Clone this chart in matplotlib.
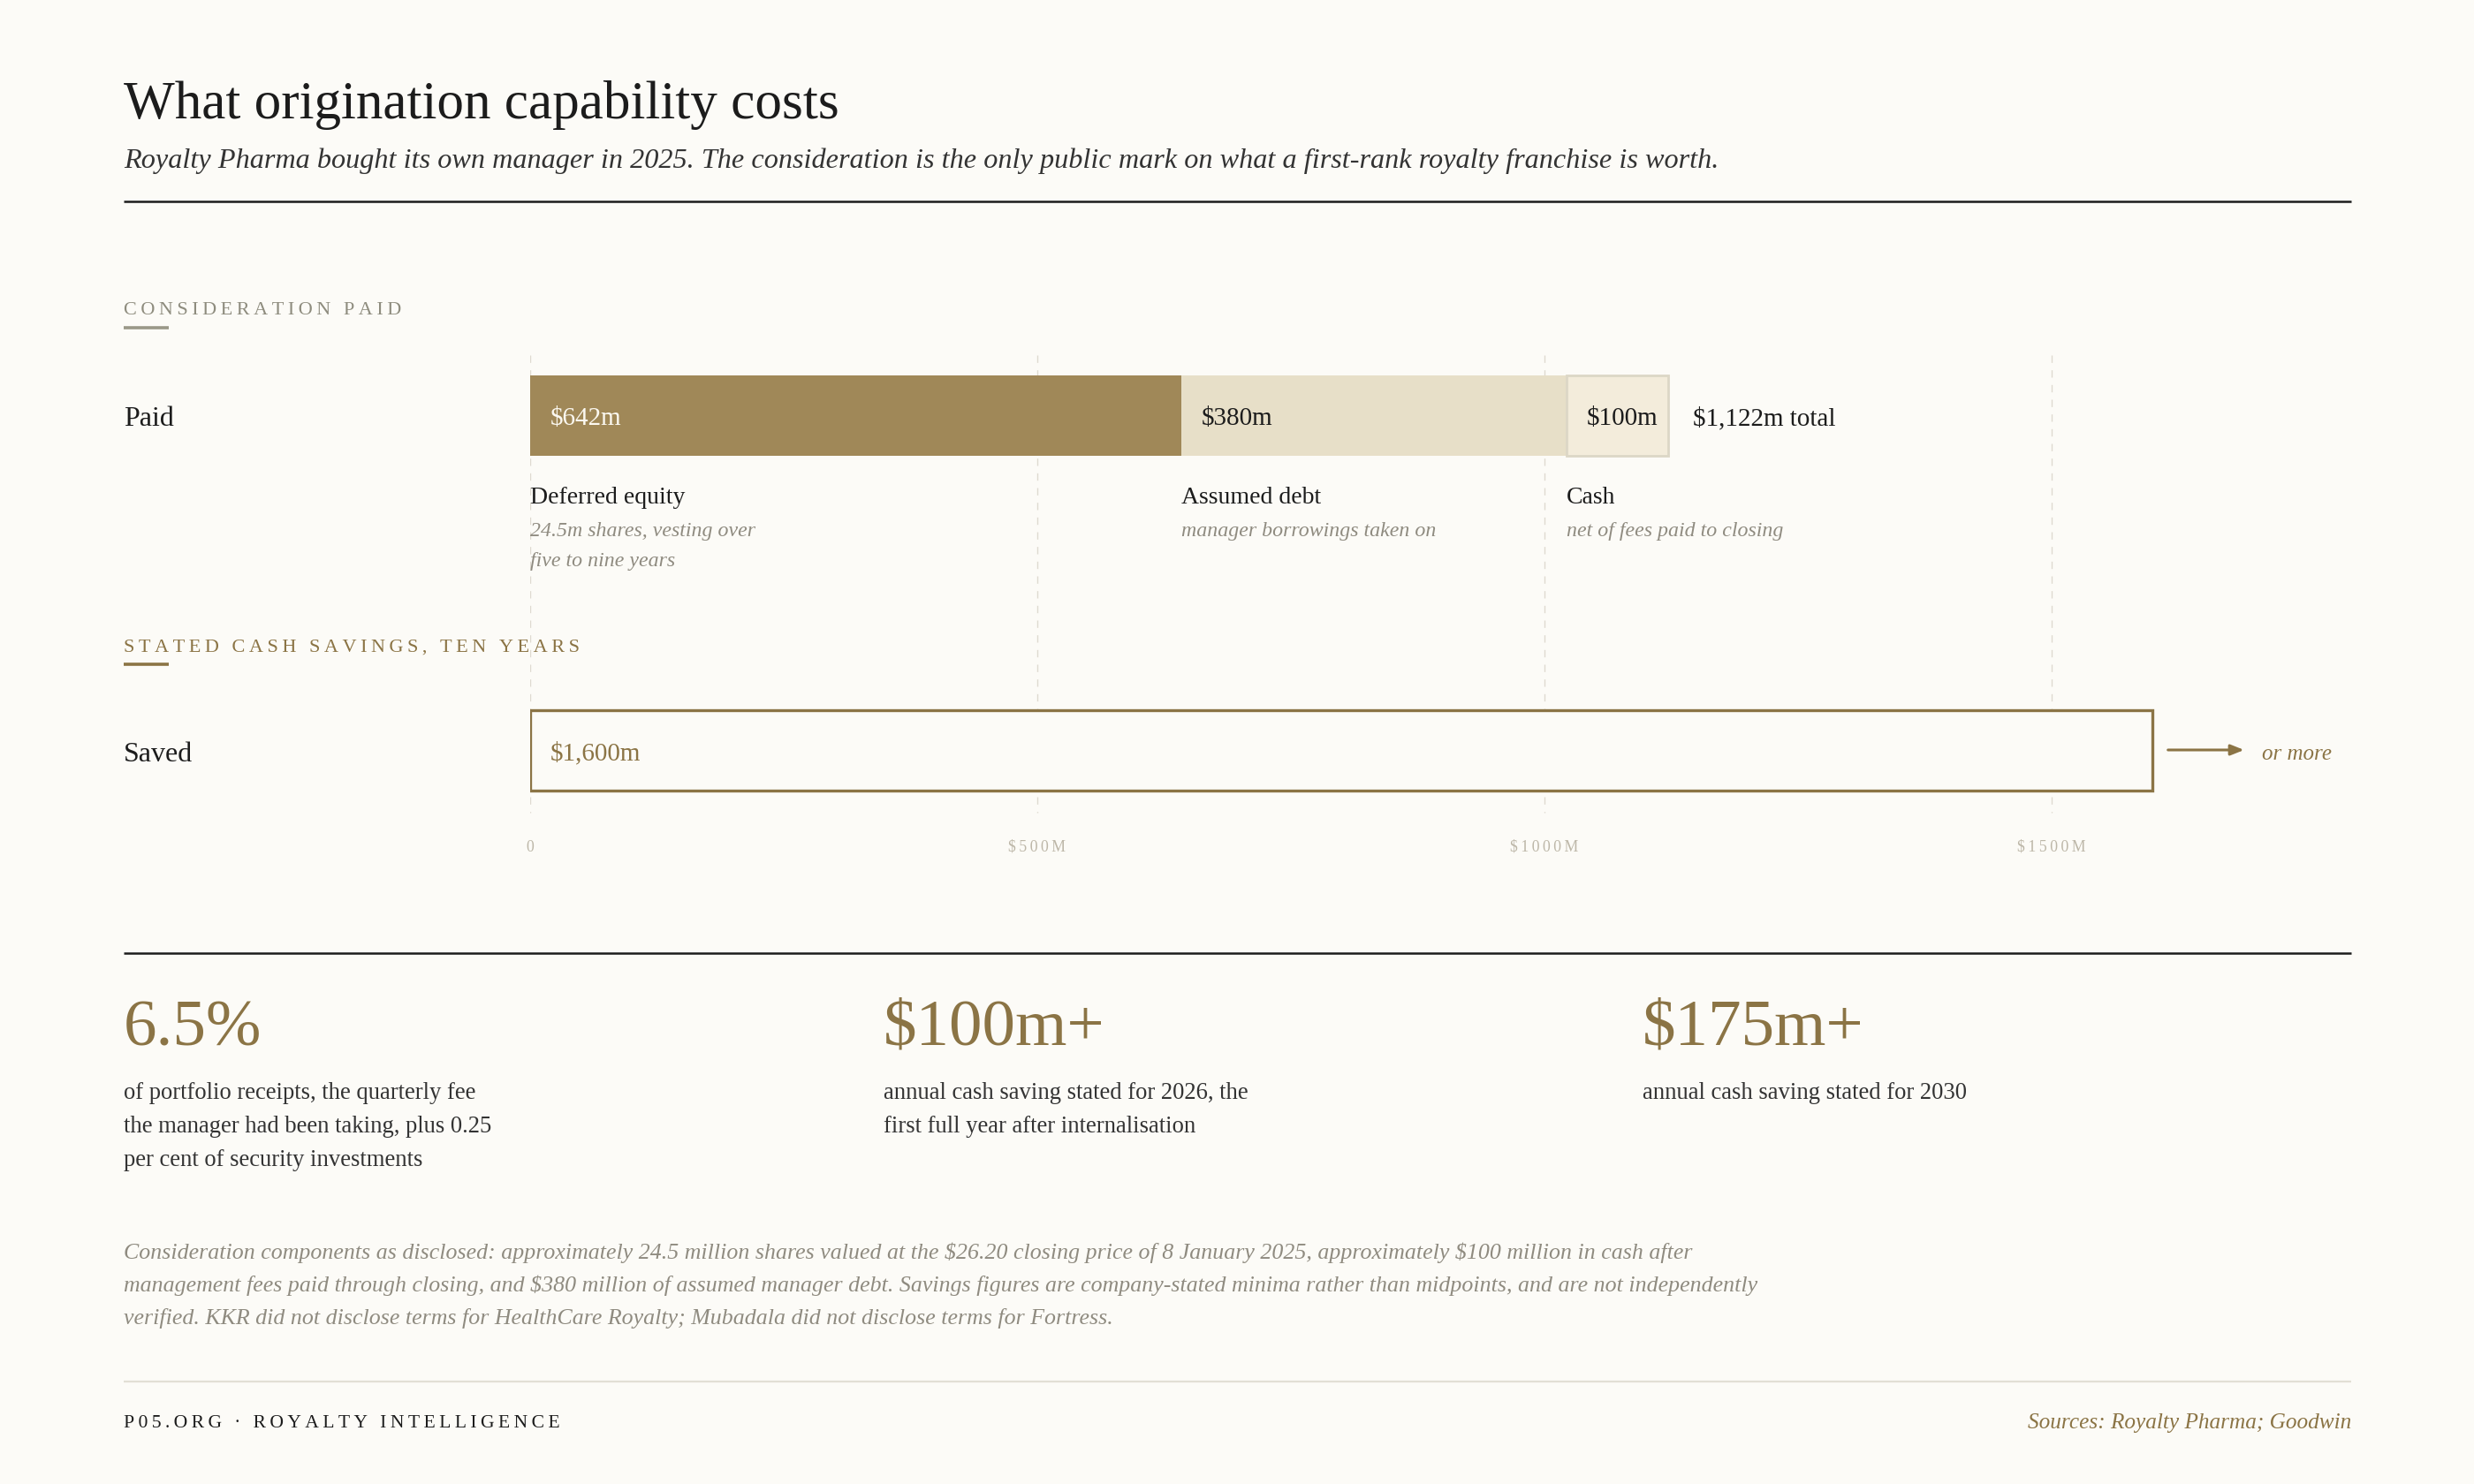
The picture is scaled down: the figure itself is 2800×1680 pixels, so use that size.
import numpy as np
import matplotlib
matplotlib.use("Agg")
import matplotlib.pyplot as plt

# consideration paid, $m
paid_labels = ["Deferred equity", "Assumed debt", "Cash"]
paid_notes = [["24.5m shares, vesting over", "five to nine years"],
              ["manager borrowings taken on"],
              ["net of fees paid to closing"]]
paid_values = [642, 380, 100]
saved_value = 1600
ticks = [0, 500, 1000, 1500]
tick_labels = ["0", "$500M", "$1000M", "$1500M"]

# headline stats
stat_values = ["6.5%", "$100m+", "$175m+"]
stat_notes = [["of portfolio receipts, the quarterly fee",
               "the manager had been taking, plus 0.25",
               "per cent of security investments"],
              ["annual cash saving stated for 2026, the",
               "first full year after internalisation"],
              ["annual cash saving stated for 2030"]]

BG = "#fcfbf7"
GOLD = "#8b7445"
BAR_DARK = "#a08858"
BAR_MID = "#e7dfc8"
BAR_LIGHT = "#f3ecdb"
INK = "#1c1c1c"
GREY = "#8f8b80"
SERIF = "Liberation Serif"

plt.rcParams["font.family"] = [SERIF, "DejaVu Serif"]
plt.rcParams["text.parse_math"] = False


def spaced(s, gap="\u2009"):
    return gap.join(s)


fig = plt.figure(figsize=(14, 8.4), dpi=200, facecolor=BG)

# page layer in pixel coordinates
bg = fig.add_axes([0, 0, 1, 1])
bg.set_xlim(0, 2800)
bg.set_ylim(1680, 0)
bg.axis("off")
bg.set_facecolor(BG)

L, R = 140, 2661
bg.text(L, 134, "What origination capability costs", fontsize=22, color=INK, va="baseline")
bg.text(L, 190, "Royalty Pharma bought its own manager in 2025. The consideration is the only public mark "
        "on what a first-rank royalty franchise is worth.", fontsize=11.6, style="italic",
        color="#333333", va="baseline")
bg.plot([L, R], [228, 228], color=INK, lw=0.9, solid_capstyle="butt")

bg.text(L, 352, spaced("CONSIDERATION PAID"), fontsize=8.0, color="#8e8c7e", va="center")
bg.plot([L, 191], [371, 371], color="#9a9888", lw=1.3, solid_capstyle="butt")
bg.text(L, 733, spaced("STATED CASH SAVINGS, TEN YEARS"), fontsize=8.0, color=GOLD, va="center")
bg.plot([L, 191], [752, 752], color=GOLD, lw=1.3, solid_capstyle="butt")

bg.text(L, 475, "Paid", fontsize=11.5, color=INK, va="center")
bg.text(L, 854, "Saved", fontsize=11.5, color=INK, va="center")

# bar chart axes: x in $m, y in page pixels
x_max = (R - 600) / 1.1478
ax = fig.add_axes([600 / 2800, 1 - 980 / 1680, (R - 600) / 2800, 600 / 1680])
ax.set_xlim(0, x_max)
ax.set_ylim(980, 380)
ax.axis("off")
ax.patch.set_alpha(0)

for t, lab in zip(ticks, tick_labels):
    ax.plot([t, t], [402, 920], color="#dedad0", lw=0.5, ls=(0, (6, 6)), zorder=0)
    ax.text(t, 959, spaced(lab), fontsize=6.4, color="#bdb7a8", ha="center", va="center")

lefts = np.concatenate([[0], np.cumsum(paid_values)[:-1]])
colors = [BAR_DARK, BAR_MID, BAR_LIGHT]
edges = [BAR_DARK, BAR_MID, "#dcd7c6"]
text_cols = ["#fbf8f0", INK, INK]
for i, (lft, v) in enumerate(zip(lefts, paid_values)):
    ax.barh(470, v, left=lft, height=91, color=colors[i], edgecolor=edges[i],
            lw=1.0 if i == 2 else 0, zorder=2)
    ax.annotate(f"${v}m", (lft, 474), xytext=(8.2, 0), textcoords="offset points",
                fontsize=10.5, color=text_cols[i], va="center", zorder=3)
    ax.annotate(paid_labels[i], (lft, 563), fontsize=10, color=INK, va="center")
    for j, note in enumerate(paid_notes[i]):
        ax.annotate(note, (lft, 602 + 34 * j), fontsize=8.6, style="italic", color=GREY, va="center")

total = sum(paid_values)
ax.annotate(f"${total:,}m total", (total, 474), xytext=(10, 0), textcoords="offset points",
            fontsize=10.5, color=INK, va="center")

ax.barh(849, saved_value, left=0, height=91, color=BG, edgecolor=GOLD, lw=1.2, zorder=2)
ax.annotate(f"${saved_value:,}m", (0, 853), xytext=(8.2, 0), textcoords="offset points",
            fontsize=10.5, color=GOLD, va="center", zorder=3)
ax.annotate("", xy=(saved_value + 90, 849), xytext=(saved_value + 15, 849),
            arrowprops=dict(arrowstyle="-|>,head_length=0.45,head_width=0.18", color=GOLD, lw=1.1,
                            shrinkA=0, shrinkB=0))
ax.text(saved_value + 108, 854, "or more", fontsize=9, style="italic", color=GOLD, va="center")

# headline stats
bg.plot([L, R], [1079, 1079], color=INK, lw=0.9, solid_capstyle="butt")
stat_x = [140, 1000, 1859]
for x, val, notes in zip(stat_x, stat_values, stat_notes):
    bg.text(x, 1183, val, fontsize=27, color=GOLD, va="baseline")
    for j, line in enumerate(notes):
        bg.text(x, 1238 + 38 * j, line, fontsize=9.6, color="#333333", va="center")

foot = ["Consideration components as disclosed: approximately 24.5 million shares valued at the $26.20 closing price "
        "of 8 January 2025, approximately $100 million in cash after",
        "management fees paid through closing, and $380 million of assumed manager debt. Savings figures are "
        "company-stated minima rather than midpoints, and are not independently",
        "verified. KKR did not disclose terms for HealthCare Royalty; Mubadala did not disclose terms for Fortress."]
for j, line in enumerate(foot):
    bg.text(L, 1418 + 37.5 * j, line, fontsize=9.3, style="italic", color=GREY, va="center")

bg.plot([L, R], [1564, 1564], color="#e2dfd5", lw=0.8, solid_capstyle="butt")
bg.text(L, 1611, spaced("P05.ORG · ROYALTY INTELLIGENCE"), fontsize=7.8, color=INK, va="center")
bg.text(R, 1611, "Sources: Royalty Pharma; Goodwin", fontsize=9.1, style="italic", color=GOLD,
        ha="right", va="center")

fig.savefig("out.png", dpi=200, facecolor=BG)
